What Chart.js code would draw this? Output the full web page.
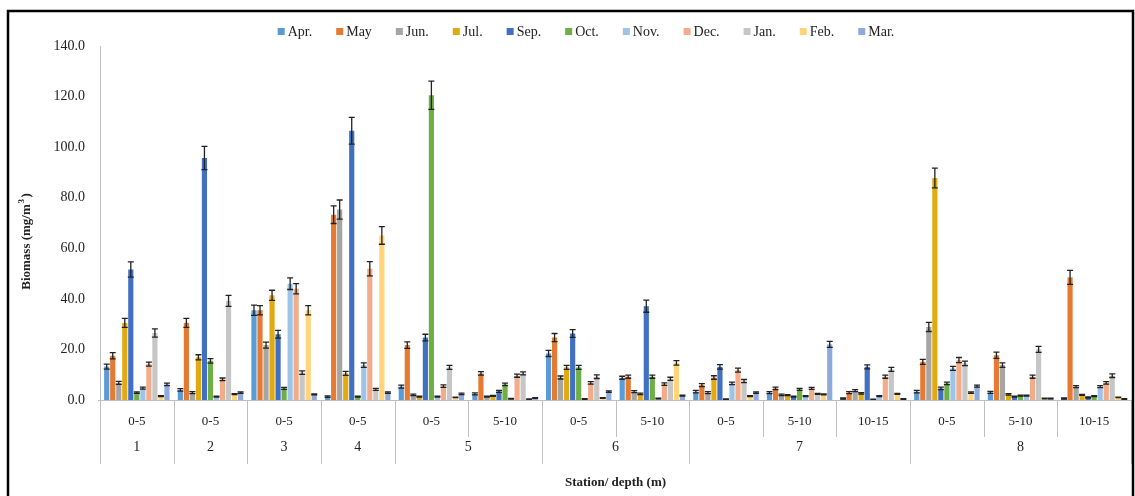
<!DOCTYPE html>
<html>
<head>
<meta charset="utf-8">
<script src="https://cdn.jsdelivr.net/npm/chart.js@4.4.1/dist/chart.umd.min.js"></script>
<style>
  html, body { margin: 0; padding: 0; background: #ffffff; }
  #wrap { width: 1135px; height: 496px; position: relative; }
</style>
</head>
<body>
<div id="wrap"><canvas id="chart" width="1135" height="496"></canvas></div>
<script>
// Sampling depth (m) and station for each group of bars
const depths = ['0-5', '0-5', '0-5', '0-5', '0-5', '5-10', '0-5', '5-10', '0-5', '5-10', '10-15', '0-5', '5-10', '10-15'];
const stations = ['1', '2', '3', '4', '5', '5', '6', '6', '7', '7', '7', '8', '8', '8'];

const months = ['Apr.', 'May', 'Jun.', 'Jul.', 'Sep.', 'Oct.', 'Nov.', 'Dec.', 'Jan.', 'Feb.', 'Mar.'];

// Mean biomass (mg/m3) per month
const apr = [13.2, 4.0, 35.5, 1.3, 5.3, 2.4, 18.4, 8.8, 3.3, 2.9, 0.6, 3.3, 3.0, 0.6];
const may = [17.5, 30.5, 35.5, 73.3, 21.7, 10.5, 24.7, 9.2, 5.9, 4.6, 2.9, 15.1, 17.7, 48.5];
const jun = [6.8, 2.9, 21.7, 75.3, 2.0, 1.3, 8.9, 3.3, 2.9, 2.0, 3.7, 28.9, 13.8, 5.3];
const jul = [30.5, 16.9, 41.4, 10.5, 1.3, 1.6, 12.9, 2.4, 8.9, 1.9, 2.6, 87.8, 2.2, 2.0];
const sep = [51.6, 95.7, 26.0, 106.5, 24.7, 3.4, 26.3, 37.1, 13.1, 1.3, 13.1, 4.6, 1.3, 1.0];
const oct = [2.9, 15.5, 4.6, 1.3, 120.5, 6.2, 12.9, 9.2, 0.3, 4.2, 0.2, 6.6, 1.7, 1.5];
const nov = [4.7, 1.3, 46.0, 13.8, 1.3, 0.5, 0.4, 0.6, 6.6, 1.5, 1.5, 12.5, 1.7, 5.3];
const dec = [14.2, 8.2, 44.0, 51.9, 5.5, 9.6, 6.8, 6.3, 11.8, 4.6, 9.2, 15.8, 9.2, 6.8];
const jan = [26.5, 39.2, 10.8, 4.2, 12.9, 10.5, 9.2, 8.4, 7.5, 2.4, 12.1, 14.5, 20.0, 9.6];
const feb = [1.5, 2.3, 35.5, 65.1, 1.0, 0.3, 0.8, 14.7, 1.5, 2.2, 2.4, 2.9, 0.6, 1.0];
const mar = [6.2, 2.9, 2.2, 2.9, 2.4, 0.8, 3.3, 1.7, 2.9, 22.0, 0.4, 5.5, 0.6, 0.4];

// Standard deviation per month
const aprSd = [1.0, 0.5, 2.0, 0.3, 0.6, 0.4, 1.2, 0.6, 0.5, 0.4, 0.2, 0.5, 0.4, 0.2];
const maySd = [1.2, 1.8, 1.8, 3.5, 1.3, 0.7, 1.6, 0.6, 0.6, 0.5, 0.4, 1.0, 1.2, 2.8];
const junSd = [0.6, 0.4, 1.2, 3.8, 0.3, 0.2, 0.6, 0.4, 0.4, 0.3, 0.4, 1.8, 0.9, 0.4];
const julSd = [1.8, 1.0, 2.0, 0.8, 0.2, 0.2, 0.8, 0.3, 0.7, 0.2, 0.3, 3.9, 0.3, 0.2];
const sepSd = [3.0, 4.6, 1.5, 5.3, 1.3, 0.4, 1.5, 2.4, 0.9, 0.2, 0.8, 0.5, 0.2, 0.2];
const octSd = [0.3, 0.9, 0.4, 0.2, 5.6, 0.5, 0.8, 0.6, 0.1, 0.4, 0.1, 0.5, 0.2, 0.2];
const novSd = [0.4, 0.2, 2.3, 0.9, 0.2, 0.1, 0.1, 0.1, 0.5, 0.2, 0.2, 0.8, 0.2, 0.4];
const decSd = [0.8, 0.5, 2.0, 2.8, 0.5, 0.6, 0.5, 0.5, 0.8, 0.4, 0.6, 1.0, 0.6, 0.5];
const janSd = [1.6, 2.2, 0.7, 0.4, 0.8, 0.6, 0.7, 0.6, 0.6, 0.2, 0.8, 0.9, 1.2, 0.7];
const febSd = [0.2, 0.2, 1.8, 3.5, 0.1, 0.1, 0.1, 0.9, 0.2, 0.2, 0.2, 0.3, 0.1, 0.1];
const marSd = [0.5, 0.3, 0.2, 0.3, 0.3, 0.1, 0.3, 0.2, 0.3, 1.2, 0.1, 0.4, 0.1, 0.1];

const yTicks = [0, 20, 40, 60, 80, 100, 120, 140];

const seriesValues = [apr, may, jun, jul, sep, oct, nov, dec, jan, feb, mar];
const seriesSd = [aprSd, maySd, junSd, julSd, sepSd, octSd, novSd, decSd, janSd, febSd, marSd];
const colors = ['#5B9BD5', '#E57A33', '#A5A5A5', '#E2AA12', '#4170C2', '#6FAE45',
                '#9DC3E6', '#F2AC8A', '#C6C6C6', '#FFD47A', '#8FA9DC'];

const SERIF = '"Liberation Serif", "Times New Roman", serif';

const datasets = months.map((m, i) => ({
  label: m,
  data: seriesValues[i],
  sd: seriesSd[i],
  backgroundColor: colors[i],
  borderWidth: 0,
  categoryPercentage: 0.9,
  barPercentage: 0.86
}));

// Whisker (± SD) drawn on top of each bar
const errorBars = {
  id: 'errorBars',
  afterDatasetsDraw(chart) {
    const ctx = chart.ctx;
    const y = chart.scales.y;
    ctx.save();
    ctx.strokeStyle = '#222222';
    ctx.lineWidth = 1.3;
    chart.data.datasets.forEach((ds, di) => {
      const meta = chart.getDatasetMeta(di);
      meta.data.forEach((bar, i) => {
        const v = ds.data[i], e = ds.sd[i];
        const yt = y.getPixelForValue(v + e);
        const yb = y.getPixelForValue(Math.max(v - e, 0));
        const half = 3;
        ctx.beginPath();
        ctx.moveTo(bar.x, yt); ctx.lineTo(bar.x, yb);
        ctx.moveTo(bar.x - half, yt); ctx.lineTo(bar.x + half, yt);
        ctx.moveTo(bar.x - half, yb); ctx.lineTo(bar.x + half, yb);
        ctx.stroke();
      });
    });
    ctx.restore();
  }
};

// Two-level category axis (depth / station), legend, axis titles and outer frame
const decorations = {
  id: 'decorations',
  afterDraw(chart) {
    const ctx = chart.ctx;
    const area = chart.chartArea;
    const xs = chart.scales.x;
    const n = depths.length;
    const w = (area.right - area.left) / n;
    const base = area.bottom;
    const row1 = base + 37;
    const row2 = base + 64;

    ctx.save();
    // category axis line
    ctx.strokeStyle = '#BFBFBF';
    ctx.lineWidth = 1;
    ctx.beginPath();
    ctx.moveTo(area.left - 2, base + 0.5);
    ctx.lineTo(area.right, base + 0.5);
    ctx.stroke();

    // separators between groups
    for (let i = 0; i <= n; i++) {
      const xb = Math.round(area.left + i * w) + 0.5;
      const stationEdge = i === 0 || i === n || stations[i] !== stations[i - 1];
      ctx.beginPath();
      ctx.moveTo(xb, base);
      ctx.lineTo(xb, stationEdge ? row2 : row1);
      ctx.stroke();
    }

    ctx.fillStyle = '#222222';
    ctx.textAlign = 'center';
    ctx.textBaseline = 'middle';
    ctx.font = '13px ' + SERIF;
    depths.forEach((d, i) => {
      ctx.fillText(d, xs.getPixelForValue(i), base + 22);
    });

    ctx.font = '14px ' + SERIF;
    let start = 0;
    for (let i = 1; i <= n; i++) {
      if (i === n || stations[i] !== stations[start]) {
        const cx = (xs.getPixelForValue(start) + xs.getPixelForValue(i - 1)) / 2;
        ctx.fillText(stations[start], cx, base + 47);
        start = i;
      }
    }

    // axis titles
    ctx.font = 'bold 13px ' + SERIF;
    ctx.fillText('Station/ depth (m)', (area.left + area.right) / 2, 483);
    ctx.save();
    ctx.translate(27, (area.top + area.bottom) / 2 + 18);
    ctx.rotate(-Math.PI / 2);
    ctx.fillText('Biomass (mg/m', -6, 0);
    const tw = ctx.measureText('Biomass (mg/m').width;
    ctx.font = 'bold 9px ' + SERIF;
    ctx.fillText('3', -6 + tw / 2 + 3, -5);
    ctx.font = 'bold 13px ' + SERIF;
    ctx.fillText(')', -6 + tw / 2 + 9, 0);
    ctx.restore();

    // legend
    ctx.font = '14px ' + SERIF;
    ctx.textAlign = 'left';
    const items = chart.data.datasets.map(ds => ({
      label: ds.label, color: ds.backgroundColor,
      w: 7 + 3 + ctx.measureText(ds.label).width
    }));
    const gap = 24;
    const total = items.reduce((s, it) => s + it.w, 0) + gap * (items.length - 1);
    let lx = 586 - total / 2;
    const ly = 32;
    items.forEach(it => {
      ctx.fillStyle = it.color;
      ctx.fillRect(lx, ly - 4, 7, 7);
      ctx.fillStyle = '#222222';
      ctx.fillText(it.label, lx + 10, ly);
      lx += it.w + gap;
    });

    // outer frame
    ctx.strokeStyle = '#000000';
    ctx.lineWidth = 2.5;
    ctx.strokeRect(8, 11, 1125, 492);
    ctx.restore();
  }
};

new Chart(document.getElementById('chart'), {
  type: 'bar',
  data: { labels: depths, datasets },
  options: {
    responsive: false,
    animation: false,
    devicePixelRatio: 1,
    layout: { padding: { left: 0, right: 4, top: 46, bottom: 0 } },
    plugins: {
      legend: { display: false },
      tooltip: { enabled: false }
    },
    scales: {
      x: {
        grid: { display: false },
        border: { display: false },
        ticks: { display: false },
        afterFit(scale) { scale.height = 96; }
      },
      y: {
        min: 0,
        max: 140,
        afterBuildTicks(scale) { scale.ticks = yTicks.map(v => ({ value: v })); },
        grid: { display: false, drawTicks: true },
        border: { display: true, color: '#BFBFBF', width: 1 },
        ticks: {
          color: '#222222',
          font: { family: SERIF, size: 14 },
          padding: 7,
          callback: v => Number(v).toFixed(1)
        },
        afterFit(scale) { scale.width = 100; }
      }
    }
  },
  plugins: [errorBars, decorations]
});

// short outward tick marks on the value axis
Chart.register({
  id: 'yTickMarks',
  afterDraw(chart) {
    const ctx = chart.ctx, y = chart.scales.y, a = chart.chartArea;
    if (!y) return;
    ctx.save();
    ctx.strokeStyle = '#BFBFBF';
    ctx.lineWidth = 1;
    y.ticks.forEach(t => {
      const py = Math.round(y.getPixelForValue(t.value)) + 0.5;
      ctx.beginPath();
      ctx.moveTo(a.left - 5, py);
      ctx.lineTo(a.left, py);
      ctx.stroke();
    });
    ctx.restore();
  }
});
</script>
</body>
</html>
